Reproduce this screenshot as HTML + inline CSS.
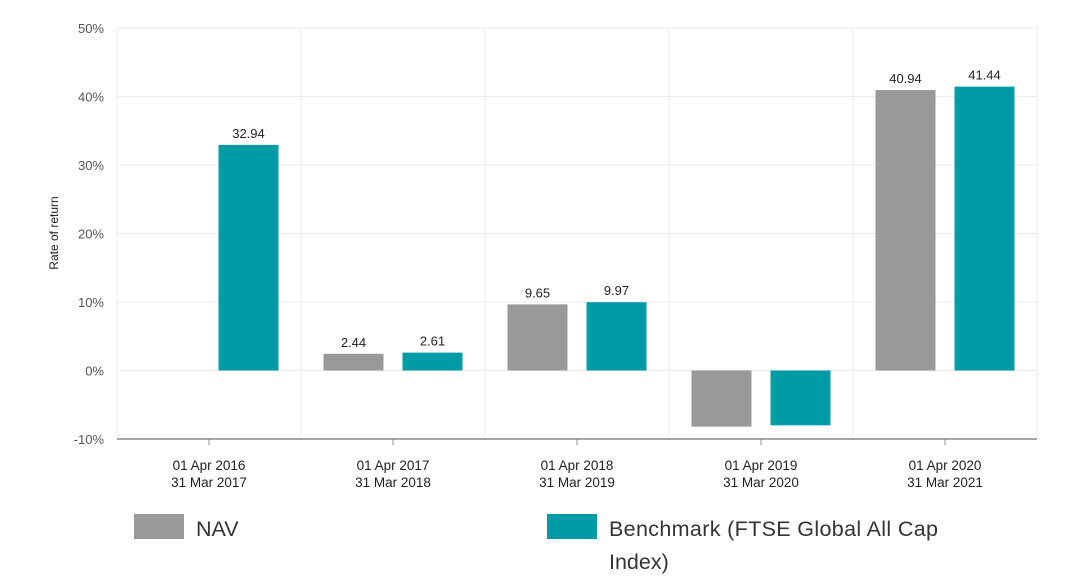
<!DOCTYPE html>
<html><head><meta charset="utf-8"><style>
body{margin:0;background:#fff;font-family:"Liberation Sans",sans-serif;}
svg{display:block}
</style></head><body>
<svg id="chart" width="1072" height="585">
<g id="grid"></g><g id="bars"></g><g id="labels"></g>
<text transform="translate(58,233) rotate(-90)" text-anchor="middle" font-size="12" fill="#222">Rate of return</text>
<g>
<rect x="134" y="514" width="50" height="25" fill="#999999"/>
<text x="196" y="536" font-size="21.5" fill="#333">NAV</text>
<rect x="547" y="514" width="50" height="25" fill="#009ba5"/>
<text x="609" y="536" font-size="21.5" textLength="329" fill="#333">Benchmark (FTSE Global All Cap</text>
<text x="609" y="569" font-size="21.5" fill="#333">Index)</text>
</g>
</svg>
<script>
const catLine1=["01 Apr 2016","01 Apr 2017","01 Apr 2018","01 Apr 2019","01 Apr 2020"];
const catLine2=["31 Mar 2017","31 Mar 2018","31 Mar 2019","31 Mar 2020","31 Mar 2021"];
const navValues=[null,2.44,9.65,-8.2,40.94];
const benchValues=[32.94,2.61,9.97,-8.0,41.44];
const yTicks=[-10,0,10,20,30,40,50];
const NS="http://www.w3.org/2000/svg";
const x0=117,x1=1037,yTop=28,yBot=439,yMin=-10,yMax=50;
const band=(x1-x0)/catLine1.length;
function y(v){return yBot-(v-yMin)/(yMax-yMin)*(yBot-yTop);}
function xc(i){return x0+band*(i+0.5);}
function mk(tag,attrs,parent){const e=document.createElementNS(NS,tag);for(const k in attrs)e.setAttribute(k,attrs[k]);parent.appendChild(e);return e;}
const grid=document.getElementById('grid'),bars=document.getElementById('bars'),labels=document.getElementById('labels');
yTicks.forEach(t=>{
 const l=mk('line',{x1:x0,x2:x1,y1:y(t),y2:y(t),stroke:'#ebebeb'},grid);
 
 
 const tx=mk('text',{x:104,y:y(t)+5,'text-anchor':'end','font-size':13,fill:'#555'},grid);
 tx.textContent=t+'%';
 
 
});
for(let i=0;i<=catLine1.length;i++){
 const l=mk('line',{x1:x0+band*i,x2:x0+band*i,y1:yTop,y2:yBot,stroke:'#ebebeb'},grid);
 
 
}
const ax=mk('line',{x1:x0,x2:x1,y1:yBot,y2:yBot,stroke:'#888','stroke-width':1.5},grid);


const bw=60,off=39.5;
catLine1.forEach((c,i)=>{
 const tk=mk('line',{x1:xc(i),x2:xc(i),y1:yBot,y2:yBot+6,stroke:'#888'},grid);
 
 
 const t1=mk('text',{x:xc(i),y:470,'text-anchor':'middle','font-size':13.5,fill:'#222'},labels);
 t1.textContent=c;
 
 
 const t2=mk('text',{x:xc(i),y:487,'text-anchor':'middle','font-size':13.5,fill:'#222'},labels);
 t2.textContent=catLine2[i];
 
 
 [[navValues[i],-off,'#999999','nav'],[benchValues[i],off,'#009ba5','benchmark']].forEach(([v,o,col,nm])=>{
  if(v===null)return;
  const top=Math.min(y(v),y(0)),h=Math.abs(y(v)-y(0));
  const r=mk('rect',{x:xc(i)+o-bw/2,y:top,width:bw,height:h,fill:col},bars);
  
  
  if(v>0){
   const lt=mk('text',{x:xc(i)+o,y:y(v)-7,'text-anchor':'middle','font-size':13,fill:'#222'},labels);
   lt.textContent=v.toFixed(2);
   
   
  }
 });
});
</script>
</body></html>
